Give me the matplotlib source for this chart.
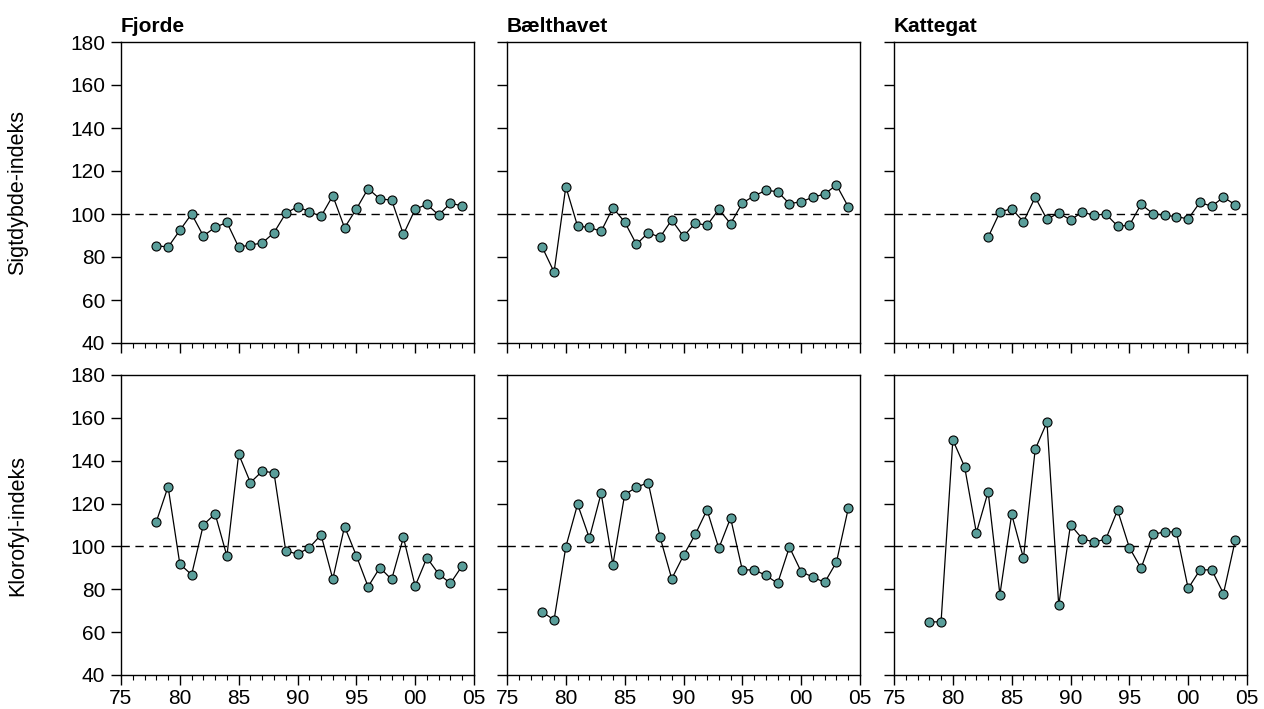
import numpy as np
import matplotlib
matplotlib.use("Agg")
import matplotlib.pyplot as plt
from matplotlib.ticker import MultipleLocator, FuncFormatter

plt.rcParams['font.family'] = ['Liberation Sans', 'DejaVu Sans']

# år 1978-2004
years = np.arange(1978, 2005)
years_kat_sigt = np.arange(1983, 2005)

# Sigtdybde-indeks
sigt_fjorde = [85.3, 84.6, 92.4, 100.0, 89.8, 93.8, 96.1, 84.6, 85.6, 86.5, 91.3, 100.3, 103.4,
               101.1, 98.9, 108.5, 93.6, 102.3, 111.8, 107.0, 106.5, 90.5, 102.2, 104.5, 99.5,
               105.1, 103.7]
sigt_baelt = [84.5, 73.0, 112.7, 94.3, 93.8, 91.9, 102.9, 96.3, 85.9, 91.3, 89.2, 97.2, 89.6,
              95.8, 94.7, 102.2, 95.5, 105.1, 108.4, 111.0, 110.4, 104.8, 105.7, 107.8, 109.3,
              113.5, 103.4]
sigt_katt = [89.2, 100.9, 102.5, 96.4, 107.8, 97.5, 100.5, 97.2, 100.9, 99.4, 100.0, 94.4,
             94.7, 104.5, 100.2, 99.4, 98.8, 97.7, 105.4, 103.6, 107.8, 104.3]

# Klorofyl-indeks
klor_fjorde = [111.5, 127.9, 91.8, 86.8, 110.1, 115.2, 95.5, 143.1, 129.8, 135.1, 134.4, 98.0,
               96.4, 99.4, 105.4, 84.8, 109.3, 95.7, 81.2, 90.1, 84.6, 104.2, 81.5, 94.7, 87.1,
               82.8, 91.0]
klor_baelt = [69.4, 65.7, 99.8, 119.7, 103.9, 124.8, 91.5, 124.2, 127.6, 129.8, 104.5, 84.9,
              95.8, 105.6, 117.1, 99.1, 113.3, 89.0, 89.1, 86.5, 82.8, 99.7, 88.2, 85.7, 83.2,
              92.7, 117.7]
klor_katt = [64.8, 64.8, 149.7, 137.2, 106.4, 125.5, 77.5, 115.0, 94.6, 145.3, 158.0, 72.5,
             110.1, 103.6, 102.0, 103.4, 116.9, 99.5, 89.8, 105.6, 106.8, 106.8, 80.4, 89.0,
             89.1, 78.0, 102.8]

titles = ['Fjorde', 'Bælthavet', 'Kattegat']
row_labels = ['Sigtdybde-indeks', 'Klorofyl-indeks']

data = [
    [(years, sigt_fjorde), (years, sigt_baelt), (years_kat_sigt, sigt_katt)],
    [(years, klor_fjorde), (years, klor_baelt), (years, klor_katt)],
]

W, H = 1264, 709
fig = plt.figure(figsize=(W / 100, H / 100), dpi=100)

col_x = [121, 507, 894]
col_w = 353
row_y = [(42, 343), (375, 675)]

fs = 15

for r in range(2):
    for c in range(3):
        x0 = col_x[c]
        top, bot = row_y[r]
        ax = fig.add_axes([x0 / W, 1 - bot / H, col_w / W, (bot - top) / H])
        xs, ys = data[r][c]
        ax.axhline(100, color='black', lw=1.0, ls=(0, (6, 4)), zorder=1)
        ax.plot(xs, ys, color='black', lw=0.9, marker='o', ms=6.5,
                mfc='#5a9e9a', mec='black', mew=0.8, zorder=3, clip_on=False)
        ax.set_xlim(1975, 2005)
        ax.set_ylim(40, 180)
        ax.xaxis.set_major_locator(MultipleLocator(5))
        ax.xaxis.set_minor_locator(MultipleLocator(1))
        ax.yaxis.set_major_locator(MultipleLocator(20))
        ax.xaxis.set_major_formatter(FuncFormatter(lambda v, p: '%02d' % (int(round(v)) % 100)))
        ax.tick_params(axis='both', which='major', direction='out', length=7, width=1,
                       labelsize=fs, colors='black')
        ax.tick_params(axis='x', which='minor', direction='out', length=3.5, width=0.8)
        ax.tick_params(axis='x', pad=3)
        ax.tick_params(axis='y', pad=4.5)
        for s in ax.spines.values():
            s.set_linewidth(1.0)
        if r == 0:
            ax.tick_params(axis='x', labelbottom=False)
            ax.text(0.0, 1.02, titles[c], transform=ax.transAxes, fontsize=fs,
                    fontweight='bold', ha='left', va='bottom')
        if c > 0:
            ax.tick_params(axis='y', labelleft=False)
        else:
            ax.set_ylabel(row_labels[r], fontsize=15.5)
            ax.yaxis.set_label_coords(-0.263, 0.5)

fig.savefig('out.png', dpi=100)
